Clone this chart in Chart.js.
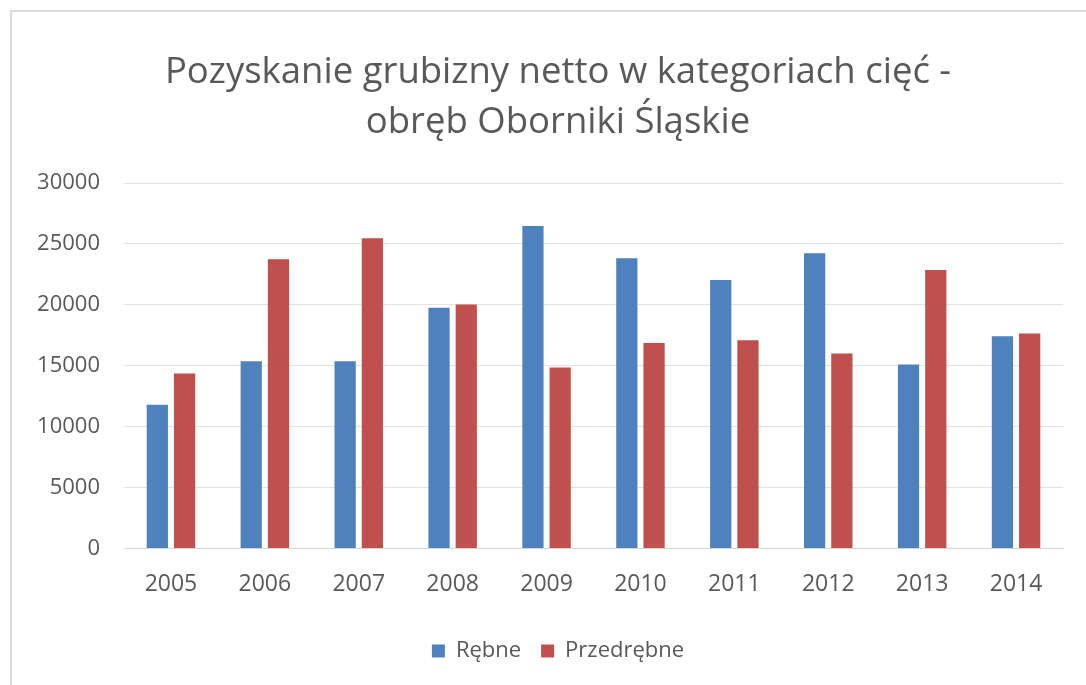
<!DOCTYPE html>
<html>
<head>
<meta charset="utf-8">
<script src="https://cdn.jsdelivr.net/npm/chart.js@4.4.1/dist/chart.umd.min.js"></script>
<style>
  html, body { margin: 0; padding: 0; background: #fff; overflow: hidden; }
  #frame { position: absolute; left: 10px; top: 10px; width: 1100px; height: 700px;
           border-left: 2px solid #dcdcdc; border-top: 2px solid #dcdcdc; }
  /* wider than the window so title and legend centre where the original does */
  #wrap { position: absolute; left: 0; top: 0; width: 1116px; height: 685px; }
</style>
</head>
<body>
<div id="frame"></div>
<div id="wrap"><canvas id="chart"></canvas></div>
<script>
// values
const years = ['2005', '2006', '2007', '2008', '2009', '2010', '2011', '2012', '2013', '2014'];
const rebne = [11800, 15370, 15370, 19750, 26480, 23820, 22030, 24230, 15090, 17420];
const przedrebne = [14350, 23740, 25470, 20030, 14850, 16870, 17090, 16000, 22860, 17650];
const yTicks = [0, 5000, 10000, 15000, 20000, 25000, 30000];

const textColor = '#595959';
const font = 'Open Sans';

const ctx = document.getElementById('chart').getContext('2d');
new Chart(ctx, {
  type: 'bar',
  data: {
    labels: years,
    datasets: [
      {
        label: 'Rębne',
        data: rebne,
        backgroundColor: '#4f81bd',
        borderWidth: 0,
        barPercentage: 0.78,
        categoryPercentage: 0.58,
      },
      {
        label: 'Przedrębne',
        data: przedrebne,
        backgroundColor: '#c0504d',
        borderWidth: 0,
        barPercentage: 0.78,
        categoryPercentage: 0.58,
      },
    ],
  },
  options: {
    responsive: true,
    maintainAspectRatio: false,
    animation: false,
    layout: { padding: { left: 0, right: 0, top: 0, bottom: 13 } },
    scales: {
      x: {
        grid: { display: false, drawTicks: false },
        border: { display: true, color: '#d9d9d9', width: 1 },
        ticks: { color: textColor, font: { family: font, size: 23 }, padding: 22 },
      },
      y: {
        min: 0,
        max: 30000,
        afterBuildTicks: (scale) => { scale.ticks = yTicks.map(v => ({ value: v })); },
        afterFit: (scale) => { scale.width = 124; },
        grid: { color: '#e3e3e3', drawTicks: false },
        border: { display: false },
        ticks: {
          color: textColor,
          font: { family: font, size: 22 },
          padding: 24,
          callback: (v) => String(v),
        },
      },
      // empty right margin, keeps the plot edge at the same place
      spacer: {
        type: 'linear',
        position: 'right',
        grid: { display: false },
        border: { display: false },
        ticks: { display: false },
        afterFit: (scale) => { scale.width = 53; },
      },
    },
    plugins: {
      title: {
        display: true,
        text: ['Pozyskanie grubizny netto w kategoriach cięć -', 'obręb Oborniki Śląskie'],
        color: textColor,
        font: { family: font, size: 36.5, weight: 'normal', lineHeight: 1.37 },
        padding: { top: 48, bottom: 35 },
      },
      legend: {
        position: 'bottom',
        labels: {
          color: textColor,
          font: { family: font, size: 22 },
          boxWidth: 13,
          boxHeight: 13,
          padding: 20,
        },
      },
      tooltip: { enabled: false },
    },
  },
});
</script>
</body>
</html>
